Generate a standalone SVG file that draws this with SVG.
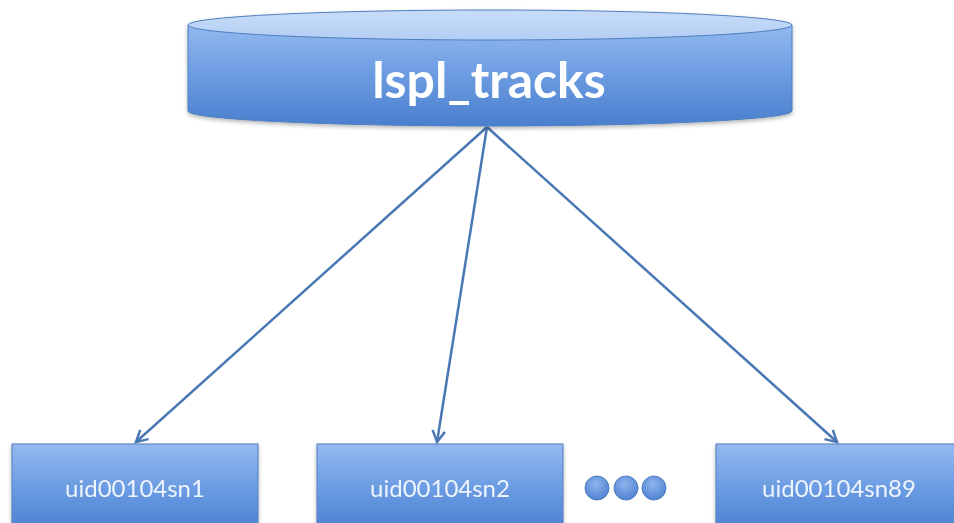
<svg xmlns="http://www.w3.org/2000/svg" width="954" height="523" viewBox="0 0 954 523">
  <defs>
    <linearGradient id="bodyGrad" x1="0" y1="0" x2="0" y2="1">
      <stop offset="0" stop-color="#92b9f0"/>
      <stop offset="0.5" stop-color="#6b9be0"/>
      <stop offset="1" stop-color="#4a7fce"/>
    </linearGradient>
    <linearGradient id="topGrad" x1="0" y1="0" x2="0" y2="1">
      <stop offset="0" stop-color="#c8dcf8"/>
      <stop offset="1" stop-color="#b3cef4"/>
    </linearGradient>
    <linearGradient id="boxGrad" x1="0" y1="0" x2="0" y2="1">
      <stop offset="0" stop-color="#95b9f0"/>
      <stop offset="0.5" stop-color="#6a9be2"/>
      <stop offset="1" stop-color="#4a7fcf"/>
    </linearGradient>
    <radialGradient id="dotGrad" cx="0.45" cy="0.35" r="0.7">
      <stop offset="0" stop-color="#8fb4ee"/>
      <stop offset="1" stop-color="#4c80cf"/>
    </radialGradient>
    <marker id="arrow" viewBox="0 0 12 12" refX="10" refY="6" markerWidth="6" markerHeight="6" orient="auto" markerUnits="strokeWidth">
      <path d="M1,1 L10,6 L1,11" fill="none" stroke="#4a78b3" stroke-width="2"/>
    </marker>
    <filter id="shadow" x="-5%" y="-20%" width="110%" height="150%">
      <feGaussianBlur in="SourceAlpha" stdDeviation="2"/>
      <feOffset dy="2"/>
      <feComponentTransfer><feFuncA type="linear" slope="0.3"/></feComponentTransfer>
      <feMerge><feMergeNode/><feMergeNode in="SourceGraphic"/></feMerge>
    </filter>
  </defs>
  <style>
    .node { stroke: #4f7fbf; stroke-width: 1; }
    .label { font-family: "Lato", "Liberation Sans", sans-serif; fill: #ffffff; text-anchor: middle; }
    .small { fill: #eef4fc; font-size: 24px; }
    .edge { stroke: #4a78b3; stroke-width: 2.5; fill: none; marker-end: url(#arrow); }
  </style>

  <rect width="954" height="523" fill="#ffffff"/>

  <g id="edges">
    <line class="edge" x1="487" y1="127" x2="136" y2="442"/>
    <line class="edge" x1="487" y1="127" x2="437" y2="442"/>
    <line class="edge" x1="487" y1="127" x2="837" y2="442"/>
  </g>

  <g id="lspl_tracks" filter="url(#shadow)">
    <path class="node" d="M188,25 L188,111 A302,15 0 0 0 792,111 L792,25 Z" fill="url(#bodyGrad)"/>
    <ellipse class="node" cx="490" cy="25" rx="302" ry="15" fill="url(#topGrad)"/>
    <text class="label" x="489" y="98" font-size="50" font-weight="bold">lspl_tracks</text>
  </g>

  <g id="sn1" filter="url(#shadow)">
    <rect class="node" x="12" y="444" width="246" height="90" fill="url(#boxGrad)"/>
    <text class="label small" x="135" y="497">uid00104sn1</text>
  </g>

  <g id="sn2" filter="url(#shadow)">
    <rect class="node" x="317" y="444" width="246" height="90" fill="url(#boxGrad)"/>
    <text class="label small" x="440" y="497">uid00104sn2</text>
  </g>

  <g id="ellipsis">
    <circle cx="597" cy="488" r="12" fill="url(#dotGrad)" stroke="#4f7fbf"/>
    <circle cx="626" cy="488" r="12" fill="url(#dotGrad)" stroke="#4f7fbf"/>
    <circle cx="654" cy="488" r="12" fill="url(#dotGrad)" stroke="#4f7fbf"/>
  </g>

  <g id="sn89" filter="url(#shadow)">
    <rect class="node" x="716" y="444" width="260" height="90" fill="url(#boxGrad)"/>
    <text class="label small" x="839" y="497">uid00104sn89</text>
  </g>
</svg>
